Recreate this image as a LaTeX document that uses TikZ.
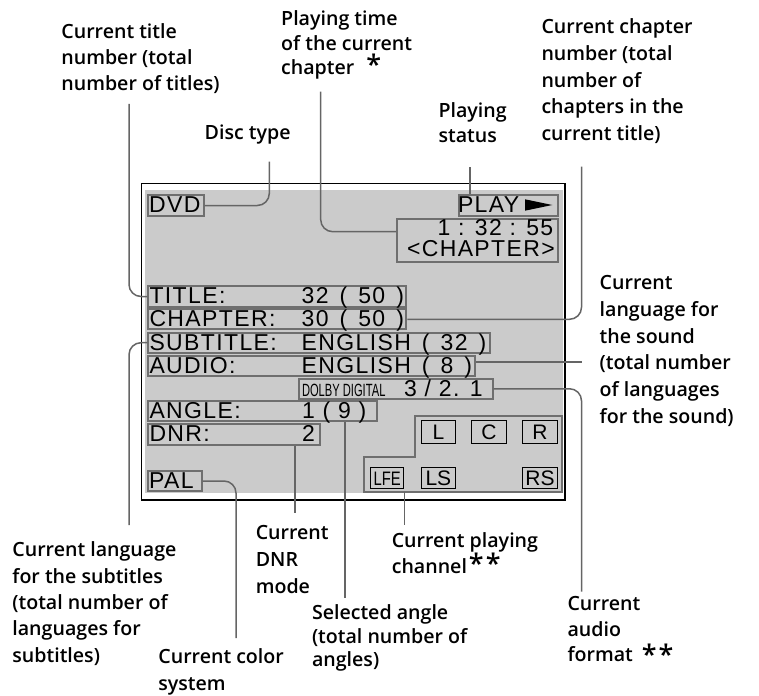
\documentclass[tikz,border=0pt]{standalone}
\usepackage{fontspec}
\setmainfont{Open Sans}
\newfontfamily\lab{Open Sans Semibold}
\newfontfamily\disp{Liberation Sans}[LetterSpace=6]
\newfontfamily\plainf{Liberation Sans}
\definecolor{scr}{HTML}{CBCBCB}
\definecolor{bx}{HTML}{6F6F6F}
\definecolor{ln}{HTML}{656565}
\newcommand{\lf}[1]{\lab\fontsize{19.6}{#1}\selectfont}
\newcommand{\stars}[1]{{\fontsize{27}{27}\selectfont #1}}
\newcommand{\ds}{\hspace{11pt}}
\tikzset{
 dbox/.style={draw=bx, line width=2pt, inner sep=0pt, anchor=north west, rectangle},
 chbox/.style={draw=black, line width=1pt, inner sep=0pt, anchor=north west, rectangle, font=\plainf\fontsize{21}{21}\selectfont},
 dtxt/.style={inner sep=0pt, anchor=base west, font=\disp\fontsize{23}{23}\selectfont},
 lbl/.style={inner sep=0pt, anchor=north west, align=left},
 conn/.style={draw=ln, line width=1.5pt, rounded corners=12pt},
}
\begin{document}
\begin{tikzpicture}[x=1pt,y=-1pt]
\useasboundingbox (0,0) rectangle (759,695);
% screen
\fill[scr] (145,190) rectangle (562.7,493.3);
\draw[line width=1.3pt] (141.7,183.3) rectangle (565,500);
% display boxes
\node[dbox, minimum width=56, minimum height=21] (dvd) at (146.7,194) {};
\node[dbox, minimum width=99, minimum height=21] (play) at (457.7,194) {};
\node[dbox, minimum width=160.7, minimum height=42.4] (time) at (396,218.3) {};
\node[dbox, minimum width=257.7, minimum height=21] (title) at (147.3,285) {};
\node[dbox, minimum width=258, minimum height=20] (chap) at (147.3,308.3) {};
\node[dbox, minimum width=342, minimum height=20] (sub) at (147.3,331.7) {};
\node[dbox, minimum width=326.7, minimum height=20] (aud) at (147.3,355) {};
\node[dbox, minimum width=194, minimum height=20.5] (dolby) at (297.5,377.5) {};
\node[dbox, minimum width=228.7, minimum height=20] (angle) at (147.3,400) {};
\node[dbox, minimum width=172, minimum height=20.7] (dnr) at (147.3,423.3) {};
\node[dbox, minimum width=53.4, minimum height=20] (pal) at (147.3,470) {};
% display texts
\node[dtxt] (tdvd) at (149,212.75) {DVD};
\node[dtxt] (tplay) at (457.8,212.75) {PLAY};
\fill (525,199.3) -- (552.3,205) -- (525,210.7) -- cycle;
\node[dtxt, anchor=base east, text height=16pt, text depth=0pt] (ttime) at (553.5,235.3) {1 : 32 : 55};
\node[dtxt, anchor=base east, text height=16pt, text depth=0pt] (tchp) at (555,256) {<CHAPTER>};
\node[dtxt] (ttitle) at (149.3,303.75) {TITLE:};
\node[dtxt] (vtitle) at (301.5,303.75) {32\ds(\ds50\ds)};
\node[dtxt] (tchap) at (149.3,326.5) {CHAPTER:};
\node[dtxt] (vchap) at (301.5,326.5) {30\ds(\ds50\ds)};
\node[dtxt] (tsub) at (149.3,350) {SUBTITLE:};
\node[dtxt] (vsub) at (301.5,350) {ENGLISH\ds(\ds32\ds)};
\node[dtxt] (taud) at (149.3,373.25) {AUDIO:};
\node[dtxt] (vaud) at (301.5,373.25) {ENGLISH\ds(\ds8\ds)};
\node[inner sep=0pt, anchor=base west, font=\plainf\fontsize{17.7}{17.7}\selectfont] (tdolby) at (301.8,396.2) {\scalebox{0.63}[1]{DOLBY DIGITAL}};
\node[dtxt] (vdolby) at (404,396.2) {3 / 2. 1};
\node[dtxt] (tangle) at (149.3,418.25) {ANGLE:};
\node[dtxt] (vangle) at (302,418.25) {1 ( 9 )};
\node[dtxt] (tdnr) at (149.3,441.9) {DNR:};
\node[dtxt, anchor=base east] (vdnr) at (315,441.9) {2};
\node[dtxt] (tpal) at (149,488.25) {PAL};
% channel panel
\draw[draw=bx, line width=2pt] (415,416) -- (561.7,416) -- (561.7,492.3) -- (364,492.3) -- (364,456.7) -- (415,456.7) -- cycle;
\coordinate (chbot) at (404.3,492.3);
\node[chbox, minimum width=34.3, minimum height=23.3] (cl) at (420.7,420) {L};
\node[chbox, minimum width=34.7, minimum height=23.3] (cc) at (471,420) {C};
\node[chbox, minimum width=34.4, minimum height=23.3] (cr) at (522.3,420) {R};
\node[chbox, minimum width=33.3, minimum height=21, font=\plainf\fontsize{19.5}{19.5}\selectfont] (clfe) at (370,467.3) {\scalebox{0.76}[1]{LFE}};
\node[chbox, minimum width=34.3, minimum height=21] (cls) at (420.7,467.3) {LS};
\node[chbox, minimum width=34.4, minimum height=21] (crs) at (522.3,467.3) {RS};
% callout ends
\coordinate (e1) at (129,104);
\coordinate (e2) at (320.7,91.7);
\coordinate (e3) at (269.3,161.7);
\coordinate (e4) at (470,166.7);
\coordinate (e5) at (581.5,166.7);
\coordinate (e6) at (581.7,362);
\coordinate (e7) at (129,525);
\coordinate (e8) at (236,638);
\coordinate (e9) at (295,513);
\coordinate (e10) at (345,598);
\coordinate (e11) at (404.3,525);
\coordinate (e12) at (581.5,591.7);
% connectors
\draw[conn] (e1) |- (title.west);
\draw[conn] (e2) |- ([yshift=8.8pt]time.west);
\draw[conn] (dvd.east) -| (e3);
\draw[conn] (play.north -| e4) -- (e4);
\draw[conn] (chap.east) -| (e5);
\draw[conn] (aud.east |- e6) -- (e6);
\draw[conn] (sub.west) -| (e7);
\draw[conn] (pal.east) -| (e8);
\draw[conn] (dnr.south -| e9) -- (e9);
\draw[conn] (angle.south -| e10) -- (e10);
\draw[conn] (chbot) -- (e11);
\draw[conn] (dolby.east) -| (e12);
% labels
\node[lbl, font=\lf{26}] (l1) at (61.2,23.8) {Current title\\number (total\\number of titles)};
\node[lbl, font=\lf{24.5}] (l2) at (281,10.8) {Playing time\\of the current\\chapter\hspace{12pt}\stars{*}};
\node[lbl, font=\lf{26}] (l3) at (204.5,124.8) {Disc type};
\node[lbl, font=\lf{25}] (l4) at (438.3,102.8) {Playing\\status};
\node[lbl, font=\lf{26.7}] (l5) at (541.3,18.8) {Current chapter\\number (total\\number of\\chapters in the\\current title)};
\node[lbl, font=\lf{26.7}] (l6) at (599.5,275.4) {Current\\language for\\the sound\\(total number\\of languages\\for the sound)};
\node[lbl, font=\lf{26.4}] (l7) at (12.2,541.5) {Current language\\for the subtitles\\(total number of\\languages for\\subtitles)};
\node[lbl, font=\lf{26.7}] (l8) at (158.2,648.3) {Current color\\system};
\node[lbl, font=\lf{26.7}] (l9) at (255.6,525.4) {Current\\DNR\\mode};
\node[lbl, font=\lf{23.5}] (l10) at (311.8,604.8) {Selected angle\\(total number of\\angles)};
\node[lbl, font=\lf{25}] (l11) at (391.6,532.3) {Current playing\\channel\kern2pt\stars{*\kern2pt*}};
\node[lbl, font=\lf{25.5}] (l12) at (567.3,596.1) {Current\\audio\\format\kern9pt\raisebox{-3pt}{\stars{*\kern2pt*}}};
\end{tikzpicture}
\end{document}
